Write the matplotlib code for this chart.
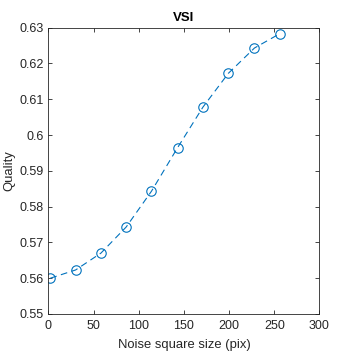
import matplotlib
matplotlib.use("Agg")
import matplotlib.pyplot as plt

# datos
tam_ruido = [2, 30, 58, 86, 114, 143, 171, 199, 228, 256]
calidad = [0.5600, 0.5623, 0.5670, 0.5743, 0.5843, 0.5965, 0.6078, 0.6172, 0.6243, 0.6283]

plt.rcParams['font.family'] = ['Liberation Sans', 'DejaVu Sans']

fig = plt.figure(figsize=(3.54, 3.54), dpi=100)
ax = fig.add_axes([0.137, 0.113, 0.7655, 0.809])

ax.plot(tam_ruido, calidad, linestyle='--', color='#0072BD', lw=0.8,
        marker='o', markersize=6.8, markerfacecolor='none', markeredgewidth=0.8,
        dashes=(6, 4))

ax.set_xlim(0, 300)
ax.set_ylim(0.55, 0.63)
ax.set_xticks(range(0, 301, 50))
ax.set_yticks([0.55, 0.56, 0.57, 0.58, 0.59, 0.6, 0.61, 0.62, 0.63])
ax.set_yticklabels(['0.55', '0.56', '0.57', '0.58', '0.59', '0.6', '0.61', '0.62', '0.63'])

gris = '#262626'
ax.tick_params(direction='in', top=True, right=True, length=3, width=0.6,
               labelsize=9, colors=gris)
ax.tick_params(axis='x', pad=4.5)
ax.tick_params(axis='y', pad=3.5)
for s in ax.spines.values():
    s.set_linewidth(0.6)
    s.set_color(gris)

ax.set_xlabel('Noise square size (pix)', fontsize=9.4, color=gris, labelpad=5)
ax.set_ylabel('Quality', fontsize=9.4, color=gris, labelpad=2.5)
ax.set_title('VSI', fontsize=9.5, fontweight='bold', pad=5)

fig.savefig('out.png', dpi=100)
